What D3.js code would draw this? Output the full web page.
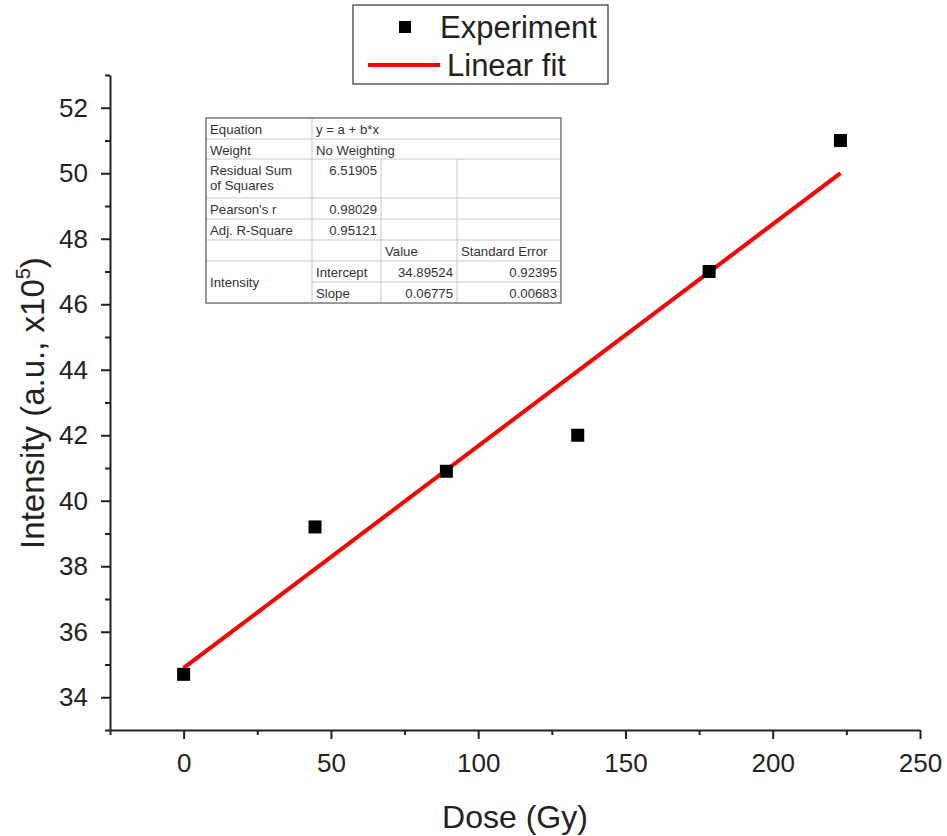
<!DOCTYPE html>
<html>
<head>
<meta charset="utf-8">
<script src="https://cdn.jsdelivr.net/npm/d3@7"></script>
<style>
  html, body { margin: 0; padding: 0; background: #fff; }
  svg { display: block; font-family: "Liberation Sans", Arial, sans-serif; }
</style>
</head>
<body>
<svg id="chart" width="947" height="836"></svg>
<script>
// ---- data ----
const dose = [0, 44.6, 89.2, 133.8, 178.4, 223];
const intensity = [34.7, 39.2, 40.9, 42.0, 47.0, 51.0];
const fitIntercept = 34.89524;
const fitSlope = 0.06775;
const fitRange = [0, 223];
const xMajorTicks = [0, 50, 100, 150, 200, 250];
const xMinorTicks = [-25, 25, 75, 125, 175, 225];
const yMajorTicks = [34, 36, 38, 40, 42, 44, 46, 48, 50, 52];
const yMinorTicks = [33, 35, 37, 39, 41, 43, 45, 47, 49, 51, 53];
const legendLabels = ["Experiment", "Linear fit"];
const tableRows = [
  ["Equation", "y = a + b*x"],
  ["Weight", "No Weighting"],
  ["Residual Sum|of Squares", "6.51905", "", ""],
  ["Pearson's r", "0.98029", "", ""],
  ["Adj. R-Square", "0.95121", "", ""],
  ["", "", "Value", "Standard Error"],
  ["Intensity", "Intercept", "34.89524", "0.92395"],
  ["", "Slope", "0.06775", "0.00683"]
];

// ---- layout ----
const svg = d3.select("#chart");
const x = d3.scaleLinear().domain([-25, 250]).range([110, 920]);
const y = d3.scaleLinear().domain([33, 53]).range([730, 75]);

// axes
svg.append("g").attr("transform", "translate(0,730)")
  .call(d3.axisBottom(x).tickValues(xMajorTicks).tickSize(9).tickSizeOuter(0).tickPadding(15));
svg.append("g").attr("transform", "translate(0,730)")
  .call(d3.axisBottom(x).tickValues(xMinorTicks).tickSize(5).tickFormat("").tickSizeOuter(0))
  .select(".domain").remove();
svg.append("g").attr("transform", "translate(110,0)")
  .call(d3.axisLeft(y).tickValues(yMajorTicks).tickSize(9).tickSizeOuter(0).tickPadding(13));
svg.append("g").attr("transform", "translate(110,0)")
  .call(d3.axisLeft(y).tickValues(yMinorTicks).tickSize(5).tickFormat("").tickSizeOuter(0))
  .select(".domain").remove();

svg.selectAll(".domain").attr("stroke", "#222").attr("stroke-width", 2);
svg.selectAll(".tick line").attr("stroke", "#222").attr("stroke-width", 2);
svg.selectAll(".tick text").attr("font-size", 26).attr("fill", "#222")
  .attr("font-family", "Liberation Sans, Arial, sans-serif");

// axis titles
svg.append("text").attr("x", 515).attr("y", 828).attr("text-anchor", "middle")
  .attr("font-size", 32).attr("fill", "#222").text("Dose (Gy)");
const yl = svg.append("text").attr("transform", "translate(44,403) rotate(-90)")
  .attr("text-anchor", "middle").attr("font-size", 33).attr("fill", "#222");
yl.append("tspan").text("Intensity (a.u., x10");
yl.append("tspan").attr("font-size", 20).attr("dy", -14).text("5");
yl.append("tspan").attr("dy", 14).text(")");

// fit line
svg.append("line")
  .attr("x1", x(fitRange[0])).attr("y1", y(fitIntercept + fitSlope * fitRange[0]))
  .attr("x2", x(fitRange[1])).attr("y2", y(fitIntercept + fitSlope * fitRange[1]))
  .attr("stroke", "#f00").attr("stroke-width", 4);

// points
const s = 13;
svg.selectAll("rect.pt").data(dose.map((d, i) => [d, intensity[i]])).enter()
  .append("rect").attr("class", "pt")
  .attr("x", d => x(d[0]) - s / 2).attr("y", d => y(d[1]) - s / 2)
  .attr("width", s).attr("height", s).attr("fill", "#000");

// legend
const lg = svg.append("g");
lg.append("rect").attr("x", 353).attr("y", 5).attr("width", 255).attr("height", 79)
  .attr("fill", "#fff").attr("stroke", "#333").attr("stroke-width", 1.2);
lg.append("rect").attr("x", 399).attr("y", 21).attr("width", 12).attr("height", 12).attr("fill", "#000");
lg.append("text").attr("x", 440).attr("y", 38).attr("font-size", 31).attr("fill", "#222").text(legendLabels[0]);
lg.append("line").attr("x1", 368).attr("x2", 440).attr("y1", 65).attr("y2", 65)
  .attr("stroke", "#f00").attr("stroke-width", 4);
lg.append("text").attr("x", 447).attr("y", 76).attr("font-size", 31).attr("fill", "#222").text(legendLabels[1]);

// table
const colX = [206, 312, 381, 457, 561];
const rowY = [118, 139, 159, 198, 219, 240, 261, 282, 303];
const tg = svg.append("g").attr("font-size", 13.2).attr("fill", "#333");
tg.append("rect").attr("x", colX[0]).attr("y", rowY[0]).attr("width", colX[4] - colX[0])
  .attr("height", rowY[8] - rowY[0]).attr("fill", "#fff").attr("stroke", "none");
const gridC = "#c8c8c8";
rowY.slice(1, 8).forEach((ry, i) => {
  const r = i + 1;
  const x0 = (r === 7) ? colX[1] : colX[0];
  tg.append("line").attr("x1", x0).attr("x2", colX[4]).attr("y1", ry).attr("y2", ry)
    .attr("stroke", gridC).attr("stroke-width", 1);
});
tg.append("line").attr("x1", colX[1]).attr("x2", colX[1]).attr("y1", rowY[0]).attr("y2", rowY[8]).attr("stroke", gridC);
[2, 3].forEach(c => tg.append("line").attr("x1", colX[c]).attr("x2", colX[c])
  .attr("y1", rowY[2]).attr("y2", rowY[8]).attr("stroke", gridC));
tg.append("rect").attr("x", colX[0]).attr("y", rowY[0]).attr("width", colX[4] - colX[0])
  .attr("height", rowY[8] - rowY[0]).attr("fill", "none").attr("stroke", "#777").attr("stroke-width", 1.5);

function cellText(txt, c, yBase, align) {
  const pad = 4;
  const t = tg.append("text").attr("y", yBase).attr("fill", "#333");
  if (align === "end") t.attr("x", colX[c + 1] - pad).attr("text-anchor", "end");
  else t.attr("x", colX[c] + pad);
  t.text(txt);
}
tableRows.forEach((row, r) => {
  const top = rowY[r];
  row.forEach((cell, c) => {
    if (!cell) return;
    if (c === 0 && cell.includes("|")) {
      const parts = cell.split("|");
      cellText(parts[0], 0, top + 16, "start");
      cellText(parts[1], 0, top + 31, "start");
      return;
    }
    let yb = top + 16;
    if (r === 6 && c === 0) yb = rowY[7] + 5;
    let align = "start";
    if ((r >= 2 && r <= 4 && c === 1) || (r >= 6 && (c === 2 || c === 3))) align = "end";
    cellText(cell, c, yb, align);
  });
});
</script>
</body>
</html>
